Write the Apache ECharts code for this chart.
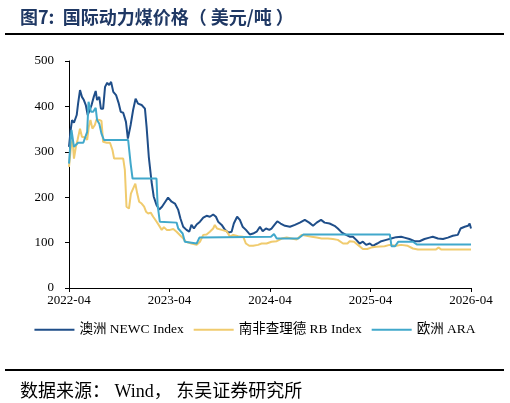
<!DOCTYPE html>
<html>
<head>
<meta charset="utf-8">
<script src="https://cdn.jsdelivr.net/npm/echarts@6/dist/echarts.min.js"></script>
<style>
  html, body { margin: 0; padding: 0; background: #fff; }
  #chart { width: 510px; height: 403px; }
</style>
</head>
<body>
<div id="chart"></div>
<script>
// 横轴刻度
const startDate = '2022-04-01';
const xTickCount = 4; // 2022-04 ... 2026-04, 每年一格

// 澳洲 NEWC Index
const newcDates = [
  '2022-04-01','2022-04-07','2022-04-12','2022-04-19','2022-04-29','2022-05-04','2022-05-11','2022-05-18',
  '2022-05-25','2022-06-01','2022-06-08','2022-06-13','2022-06-22','2022-06-30','2022-07-07','2022-07-12',
  '2022-07-20','2022-07-26','2022-08-03','2022-08-10','2022-08-18','2022-08-25','2022-09-01','2022-09-09',
  '2022-09-19','2022-09-29','2022-10-06','2022-10-15','2022-10-25','2022-11-01','2022-11-11','2022-11-20',
  '2022-11-29','2022-12-08','2022-12-21','2023-01-02','2023-01-08','2023-01-16','2023-01-26','2023-02-03',
  '2023-02-13','2023-02-23','2023-03-05','2023-03-17','2023-03-27','2023-04-09','2023-04-21','2023-05-03',
  '2023-05-11','2023-05-21','2023-06-02','2023-06-12','2023-06-20','2023-06-29','2023-07-09','2023-07-21',
  '2023-08-02','2023-08-14','2023-08-26','2023-09-07','2023-09-17','2023-09-25','2023-10-08','2023-10-20',
  '2023-11-01','2023-11-13','2023-11-21','2023-12-03','2023-12-13','2023-12-23','2024-01-04','2024-01-18',
  '2024-01-30','2024-02-12','2024-02-24','2024-03-05','2024-03-17','2024-03-29','2024-04-06','2024-04-18',
  '2024-04-27','2024-05-09','2024-05-25','2024-06-12','2024-06-30','2024-07-18','2024-08-05','2024-08-21',
  '2024-09-04','2024-09-17','2024-10-03','2024-10-16','2024-11-03','2024-11-21','2024-12-03','2024-12-18',
  '2025-01-02','2025-01-15','2025-01-27','2025-02-08','2025-02-20','2025-03-04','2025-03-16','2025-03-29',
  '2025-04-09','2025-04-25','2025-05-10','2025-05-28','2025-06-15','2025-07-03','2025-07-21','2025-08-02',
  '2025-08-20','2025-09-08','2025-09-26','2025-10-14','2025-11-01','2025-11-13','2025-12-02','2025-12-20',
  '2026-01-07','2026-01-25','2026-02-12','2026-02-22','2026-03-09','2026-03-21','2026-03-27','2026-04-01'
];
const newcValues = [
  311,348,370,364,381,406,436,421,
  414,403,381,384,403,421,434,414,
  421,395,395,443,452,447,454,432,
  425,406,388,386,366,329,359,392,
  417,406,403,395,355,289,234,201,
  183,173,179,190,199,190,186,172,
  153,135,128,124,139,131,140,146,
  155,159,157,162,157,146,139,128,
  122,124,142,157,150,135,128,118,
  120,124,135,125,131,128,131,140,
  147,142,137,135,139,144,150,144,
  137,144,150,144,142,137,131,122,
  117,113,113,106,98,102,95,98,
  93,98,103,106,109,112,113,111,
  108,103,103,108,111,113,109,108,
  111,115,117,131,135,137,142,131
];

// 南非查理德 RB Index
const rbDates = [
  '2022-04-01','2022-04-08','2022-04-14','2022-04-19','2022-04-26','2022-05-02','2022-05-11','2022-05-18',
  '2022-05-25','2022-06-01','2022-06-06','2022-06-12','2022-06-18','2022-06-25','2022-07-04','2022-07-10',
  '2022-07-20','2022-07-28','2022-08-03','2022-08-16','2022-08-28','2022-09-06','2022-09-12','2022-10-15',
  '2022-10-21','2022-10-27','2022-11-05','2022-11-12','2022-11-20','2022-11-28','2022-12-05','2022-12-12',
  '2022-12-21','2022-12-30','2023-01-06','2023-01-14','2023-01-23','2023-02-01','2023-02-11','2023-02-21',
  '2023-03-04','2023-03-12','2023-03-22','2023-04-03','2023-04-15','2023-04-27','2023-05-15','2023-05-31',
  '2023-06-20','2023-07-09','2023-07-21','2023-08-02','2023-08-14','2023-08-26','2023-09-07','2023-09-13',
  '2023-09-21','2023-10-08','2023-10-26','2023-11-07','2023-11-19','2023-12-07','2023-12-25','2024-01-04',
  '2024-01-16','2024-01-30','2024-02-17','2024-03-01','2024-03-19','2024-04-06','2024-04-25','2024-05-13',
  '2024-05-31','2024-06-18','2024-07-06','2024-07-24','2024-08-11','2024-08-30','2024-09-17','2024-10-05',
  '2024-10-28','2024-11-15','2024-12-03','2024-12-22','2025-01-07','2025-01-15','2025-01-31','2025-02-14',
  '2025-03-04','2025-03-20','2025-04-03','2025-04-21','2025-05-22','2025-06-09','2025-07-03','2025-07-21',
  '2025-08-14','2025-09-02','2025-09-20','2025-11-25','2025-12-04','2025-12-13','2026-04-01'
];
const rbValues = [
  267,311,326,285,311,326,351,333,
  337,331,326,355,370,351,359,371,
  370,368,322,320,320,304,285,285,
  260,179,175,208,219,230,208,190,
  186,179,168,164,166,157,148,139,
  128,134,128,128,130,124,113,102,
  98,95,102,117,118,124,131,139,
  131,128,125,113,117,114,113,98,
  93,93,95,98,98,102,103,109,
  111,109,107,117,115,113,111,109,
  109,108,106,98,98,103,102,95,
  86,86,89,91,92,95,93,95,
  93,87,85,85,89,85,85
];

// 欧洲 ARA
const araDates = [
  '2022-04-01','2022-04-07','2022-04-10','2022-04-19','2022-04-26','2022-05-04','2022-05-23','2022-05-29',
  '2022-06-06','2022-06-11','2022-06-20','2022-06-28','2022-07-07','2022-07-12','2022-07-20','2022-07-28',
  '2022-08-06','2022-11-02','2022-11-11','2022-11-18','2023-02-13','2023-02-17','2023-02-25','2023-04-27',
  '2023-05-03','2023-05-19','2023-05-27','2023-06-02','2023-07-09','2023-07-19','2023-07-25','2024-04-04',
  '2024-04-15','2024-04-25','2024-07-12','2024-07-31','2025-06-10','2025-06-16','2025-06-29','2025-07-11',
  '2025-09-02','2025-09-16','2026-04-01'
];
const araValues = [
  274,326,348,311,307,320,320,322,
  344,410,388,388,397,370,362,340,
  326,326,274,241,241,183,146,144,
  131,120,102,98,98,111,113,113,
  119,109,109,118,118,92,92,102,
  102,96,96
];

const DAY = 86400000;
const t0 = Date.parse(startDate);
const yearSpan = 365.25;

function toPoints(dates, values) {
  return dates.map((d, i) => [(Date.parse(d) - t0) / DAY, values[i]]);
}

function fmtTick(v) {
  const dt = new Date(t0 + (v + 5) * DAY);
  return dt.getUTCFullYear() + '-' + String(dt.getUTCMonth() + 1).padStart(2, '0');
}

const serif = "'Liberation Serif', 'Times New Roman', 'Noto Sans CJK SC', serif";

const myChart = echarts.init(document.getElementById('chart'));
const option = {
  animation: false,
  color: ['#1F4E89', '#F0CB6E', '#41A8CB'],
  title: [
    {
      text: '图7:  国际动力煤价格（ 美元/吨 ）',
      left: 15,
      top: 3,
      textStyle: {
        fontFamily: "'Noto Sans CJK SC', sans-serif",
        fontSize: 18,
        fontWeight: 'bold',
        color: '#1F3864'
      }
    },
    {
      text: '数据来源： Wind， 东吴证券研究所',
      left: 15,
      top: 378,
      textStyle: {
        fontFamily: serif,
        fontSize: 18,
        fontWeight: 'normal',
        color: '#000'
      }
    }
  ],
  graphic: [
    { type: 'line', shape: { x1: 5, y1: 34, x2: 504, y2: 34 }, style: { stroke: '#000', lineWidth: 2 } },
    { type: 'line', shape: { x1: 5, y1: 370, x2: 504, y2: 370 }, style: { stroke: '#000', lineWidth: 2 } }
  ],
  legend: {
    top: 318,
    left: 'center',
    icon: 'rect',
    itemWidth: 40,
    itemHeight: 2,
    itemGap: 10,
    textStyle: { fontFamily: serif, fontSize: 13.5, color: '#000' },
    data: ['澳洲 NEWC Index', '南非查理德 RB Index', '欧洲 ARA']
  },
  grid: { left: 69, right: 39, top: 61, bottom: 115 },
  xAxis: {
    type: 'value',
    min: 0,
    max: yearSpan * xTickCount,
    interval: yearSpan,
    axisLine: { lineStyle: { color: '#000', width: 1 } },
    axisTick: { show: true, length: 4, lineStyle: { color: '#000' } },
    splitLine: { show: false },
    axisLabel: {
      margin: 6,
      fontFamily: serif,
      fontSize: 13,
      color: '#000',
      formatter: fmtTick
    }
  },
  yAxis: {
    type: 'value',
    min: 0,
    max: 500,
    interval: 100,
    axisLine: { show: true, lineStyle: { color: '#000', width: 1 } },
    axisTick: { show: true, length: 4, lineStyle: { color: '#000' } },
    splitLine: { show: false },
    axisLabel: { margin: 15, fontFamily: serif, fontSize: 13, color: '#000' }
  },
  series: [
    {
      name: '澳洲 NEWC Index',
      type: 'line',
      symbol: 'none',
      lineStyle: { width: 2 },
      data: toPoints(newcDates, newcValues)
    },
    {
      name: '南非查理德 RB Index',
      type: 'line',
      symbol: 'none',
      lineStyle: { width: 2 },
      data: toPoints(rbDates, rbValues)
    },
    {
      name: '欧洲 ARA',
      type: 'line',
      symbol: 'none',
      lineStyle: { width: 2 },
      data: toPoints(araDates, araValues)
    }
  ]
};
myChart.setOption(option);
</script>
</body>
</html>
